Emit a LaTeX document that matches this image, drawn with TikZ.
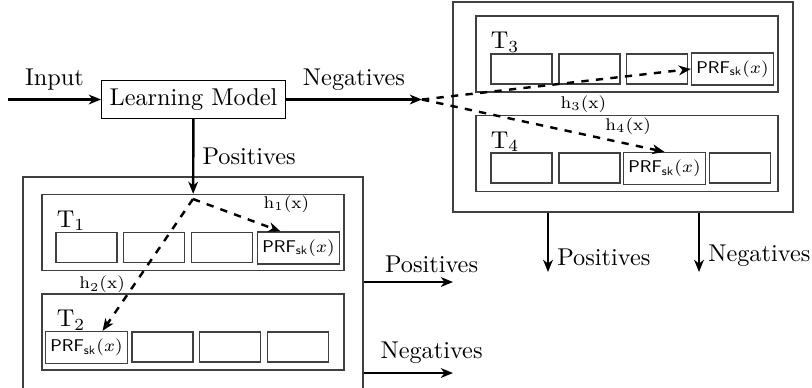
\documentclass[tikz,border=0pt]{standalone}
\usetikzlibrary{positioning, calc, arrows.meta}

\newcommand{\prfsk}{$\mathsf{PRF}_{\mathsf{sk}}(x)$}

\begin{document}
\begin{tikzpicture}[
	x=0.4115pt, y=-0.4115pt,
	>={Stealth[length=5pt, width=4pt, inset=1.5pt]},
	frame/.style={draw=black!75, line width=0.5pt},
	table/.style={frame, minimum width=124.3pt, minimum height=31.3pt},
	cell/.style={frame, minimum width=25.1pt, minimum height=12.3pt},
	prf/.style={frame, font=\scriptsize, inner xsep=2pt, inner ysep=3.1pt},
	tlabel/.style={inner sep=1pt},
	flow/.style={->, line width=1pt},
	hash/.style={->, line width=1pt, dashed},
	hlabel/.style={font=\scriptsize}
	]
	\useasboundingbox (0,0) rectangle (812,387);

	\node[draw] (lm) at (193.5,99.5) {Learning Model};
	\coordinate (in) at (8,99.5);
	\coordinate (split) at (422,99.5);

	% left group, open at the bottom
	\begin{scope}
		\clip (0,0) rectangle (812,387);
		\node[frame, minimum width=139.9pt, minimum height=107pt] (lbox) at (193,307) {};
	\end{scope}
	\node[table] (t1) at (193,232.5) {};
	\node[cell] (t1a) at (86.5,247.5) {};
	\node[cell] (t1b) at (154,247.5) {};
	\node[cell] (t1c) at (222,247.5) {};
	\node[prf] (t1d) at (298.5,248) {\prfsk};
	\node[tlabel, below right=5.6pt and 5.2pt of t1.north west] {$\mathrm{T}_1$};

	\node[table] (t2) at (193,332) {};
	\node[prf] (t2a) at (86.5,347.5) {\prfsk};
	\node[cell] (t2b) at (162.5,347) {};
	\node[cell] (t2c) at (230,347) {};
	\node[cell] (t2d) at (298,347) {};
	\node[tlabel, below right=5.6pt and 5.2pt of t2.north west] {$\mathrm{T}_2$};

	% right group
	\node[frame, minimum width=139.9pt, minimum height=86.4pt] (rbox) at (623,107) {};
	\node[table] (t3) at (627,54) {};
	\node[cell] (t3a) at (521.5,69) {};
	\node[cell] (t3b) at (589.5,69) {};
	\node[cell] (t3c) at (657,69) {};
	\node[prf] (t3d) at (732.5,69) {\prfsk};
	\node[tlabel, below right=5.6pt and 5.2pt of t3.north west] {$\mathrm{T}_3$};

	\node[table] (t4) at (627,153.5) {};
	\node[cell] (t4a) at (521.5,168) {};
	\node[cell] (t4b) at (589.5,168) {};
	\node[prf] (t4c) at (664.5,168.5) {\prfsk};
	\node[cell] (t4d) at (740,168) {};
	\node[tlabel, below right=5.6pt and 5.2pt of t4.north west] {$\mathrm{T}_4$};

	\coordinate (hop) at (193,199);
	\coordinate (lpos) at (453,282);
	\coordinate (lneg) at (453,373);
	\coordinate (rpos) at (548,272);
	\coordinate (rneg) at (699,272);

	\draw[flow] (in) -- (lm) node[midway, above] {Input};
	\draw[flow] (lm) -- (split) node[midway, above] {Negatives};
	\draw[flow] (lm) -- (t1) node[midway, right] {Positives};

	\draw[hash] (hop) -- ([xshift=-7.4pt]t1d.north) node[hlabel, pos=0.7, above right] {$\mathrm{h_1(x)}$};
	\draw[hash] (hop) -- ([xshift=6.6pt]t2a.north) node[hlabel, pos=0.65, left] {$\mathrm{h_2(x)}$};
	\draw[hash] (split) -- (t3d.west) node[hlabel, pos=0.6, below=2pt] {$\mathrm{h_3(x)}$};
	\draw[hash] (split) -- (t4c.north) node[hlabel, pos=0.85, above] {$\mathrm{h_4(x)}$};

	\draw[flow] (lbox.east |- lpos) -- (lpos) node[pos=0.76, above] {Positives};
	\draw[flow] (lbox.east |- lneg) -- (lneg) node[pos=0.76, above] {Negatives};
	\draw[flow] (rbox.south -| rpos) -- (rpos) node[pos=0.75, right] {Positives};
	\draw[flow] (rbox.south -| rneg) -- (rneg) node[pos=0.72, right] {Negatives};
\end{tikzpicture}
\end{document}
